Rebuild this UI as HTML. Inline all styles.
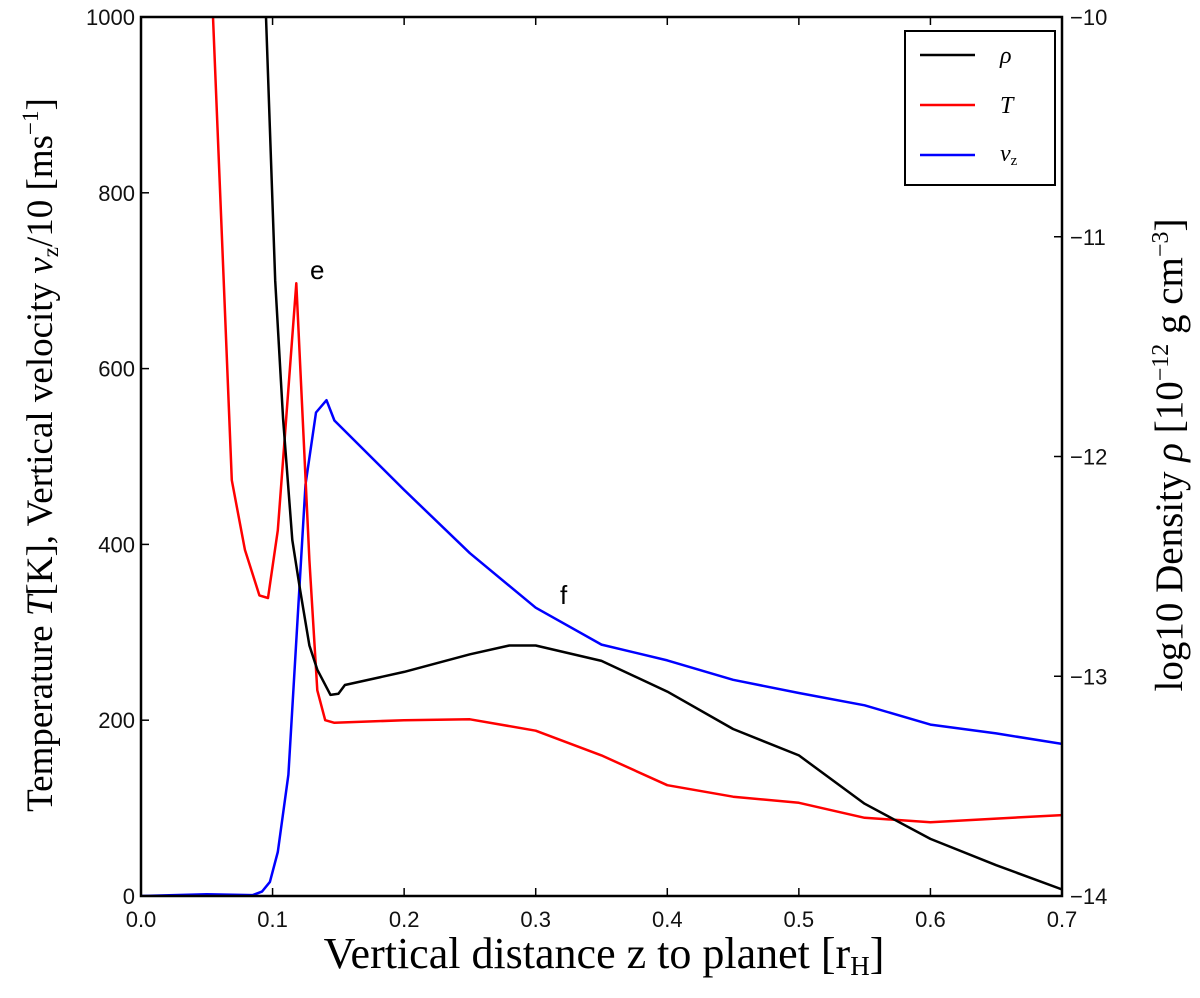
<!DOCTYPE html>
<html><head><meta charset="utf-8"><style>
html,body{margin:0;padding:0;background:#fff;}
svg text{font-family:"Liberation Sans","DejaVu Sans",sans-serif;}
.serif{font-family:"Liberation Serif","DejaVu Serif",serif;}
</style></head><body>
<svg id="chart" width="1200" height="993" viewBox="0 0 1200 993" xmlns="http://www.w3.org/2000/svg">
<defs><clipPath id="clip"><rect x="141" y="17" width="921" height="879"/></clipPath></defs>
<g id="plot" clip-path="url(#clip)"></g>
<g id="axes"></g>
</svg>
<script>
const zRho=[0.090,0.095,0.102,0.108,0.115,0.121,0.128,0.134,0.144,0.150,0.155,0.2,0.25,0.28,0.3,0.35,0.4,0.45,0.5,0.55,0.6,0.65,0.7];
const rhoVals=[-9.7,-10,-11.2,-11.83,-12.38,-12.61,-12.86,-12.97,-13.085,-13.08,-13.04,-12.98,-12.90,-12.86,-12.86,-12.93,-13.07,-13.24,-13.36,-13.58,-13.74,-13.86,-13.97];
const zT=[0.050,0.0547,0.069,0.079,0.090,0.0965,0.104,0.118,0.128,0.134,0.140,0.147,0.2,0.25,0.3,0.35,0.4,0.45,0.5,0.55,0.6,0.65,0.7];
const tVals=[1100,1000,473,394,342,339,416,697,382,234,200,197,200,201,188,160,126,113,106,89,84,88,92];
const zV=[0.0,0.05,0.085,0.092,0.098,0.104,0.112,0.125,0.133,0.141,0.147,0.2,0.25,0.3,0.35,0.4,0.45,0.5,0.55,0.6,0.65,0.7];
const vVals=[0,2,1,5,16,50,138,468,550,564,541,462,390,328,286,268,246,231,217,195,185,173];
const xTicks=["0.0","0.1","0.2","0.3","0.4","0.5","0.6","0.7"];
const yTicks=["0","200","400","600","800","1000"];
const y2Ticks=["\u221210","\u221211","\u221212","\u221213","\u221214"];

const X0=141,X1=1062,YT=17,YB=896;
const xs=z=>X0+(z/0.7)*(X1-X0);
const yl=v=>YB-(v/1000)*(YB-YT);
const yr=v=>YT+(-10-v)/4*(YB-YT);
const NS="http://www.w3.org/2000/svg";
const plot=document.getElementById('plot'),axes=document.getElementById('axes');
function mk(tag,attrs,parent){const e=document.createElementNS(NS,tag);for(const k in attrs)e.setAttribute(k,attrs[k]);parent.appendChild(e);return e;}
function line(zs,vs,fy,color,name){
  const d=zs.map((z,i)=>(i?'L':'M')+xs(z).toFixed(1)+','+fy(vs[i]).toFixed(1)).join(' ');
  const p=mk('path',{d:d,fill:'none',stroke:color,'stroke-width':2.5,'stroke-linejoin':'round'},plot);
  
  
}
line(zV,vVals,yl,'#0000ff','vz-line');
line(zT,tVals,yl,'#ff0000','temperature-line');
line(zRho,rhoVals,yr,'#000000','density-line');

const frame=mk('rect',{x:X0,y:YT,width:X1-X0,height:YB-YT,fill:'none',stroke:'#000','stroke-width':2.5},axes);



xTicks.forEach((t,i)=>{const x=xs(i*0.1);
  mk('line',{x1:x,y1:YB,x2:x,y2:YB-8,stroke:'#000','stroke-width':1.5},axes);
  mk('line',{x1:x,y1:YT,x2:x,y2:YT+8,stroke:'#000','stroke-width':1.5},axes);
  const tx=mk('text',{x:x,y:YB+31,'font-size':22,'text-anchor':'middle',fill:'#111'},axes);tx.textContent=t;
  
  
});
yTicks.forEach((t,i)=>{const y=yl(i*200);
  mk('line',{x1:X0,y1:y,x2:X0+8,y2:y,stroke:'#000','stroke-width':1.5},axes);
  const tx=mk('text',{x:X0-6,y:y+8,'font-size':22,'text-anchor':'end',fill:'#111'},axes);tx.textContent=t;
  
  
});
y2Ticks.forEach((t,i)=>{const y=yr(-10-i);
  mk('line',{x1:X1,y1:y,x2:X1-8,y2:y,stroke:'#000','stroke-width':1.5},axes);
  const tx=mk('text',{x:X1+8,y:y+8,'font-size':22,'text-anchor':'start',fill:'#111'},axes);tx.textContent=t;
  
  
});
</script>
<svg style="position:absolute;left:0;top:0" width="1200" height="993" xmlns="http://www.w3.org/2000/svg">
<text x="310" y="279" font-size="26">e</text>
<text x="560" y="604" font-size="26">f</text>
<g>
<rect x="905" y="31" width="150" height="154" fill="#fff" stroke="#000" stroke-width="2"/>
<line x1="920" y1="55" x2="975" y2="55" stroke="#000" stroke-width="2.5"/>
<text class="serif" x="1000" y="63" font-size="24" font-style="italic">ρ</text>
<line x1="920" y1="105" x2="975" y2="105" stroke="#f00" stroke-width="2.5"/>
<text class="serif" x="1000" y="113" font-size="24" font-style="italic">T</text>
<line x1="920" y1="155" x2="975" y2="155" stroke="#00f" stroke-width="2.5"/>
<text class="serif" x="1000" y="161" font-size="24" font-style="italic">v<tspan font-size="15" font-style="normal" dy="4">z</tspan></text>
</g>
<text class="serif" x="604" y="968" font-size="44" text-anchor="middle">Vertical distance z to planet [r<tspan font-size="27" dy="7">H</tspan><tspan dy="-7">]</tspan></text>
<text class="serif" transform="translate(52,455) rotate(-90)" font-size="37" text-anchor="middle">Temperature  <tspan font-style="italic">T</tspan>[K],   Vertical velocity  <tspan font-style="italic">v</tspan><tspan font-size="23" dy="6">z</tspan><tspan dy="-6">/10  [ms</tspan><tspan font-size="23" dy="-14">−1</tspan><tspan dy="14">]</tspan></text>
<text class="serif" transform="translate(1182,455) rotate(-90)" font-size="39" text-anchor="middle">log10 Density <tspan font-style="italic">ρ</tspan> [10<tspan font-size="24" dy="-14">−12</tspan><tspan dy="14"> g cm</tspan><tspan font-size="24" dy="-14">−3</tspan><tspan dy="14">]</tspan></text>
</svg>
</body></html>
